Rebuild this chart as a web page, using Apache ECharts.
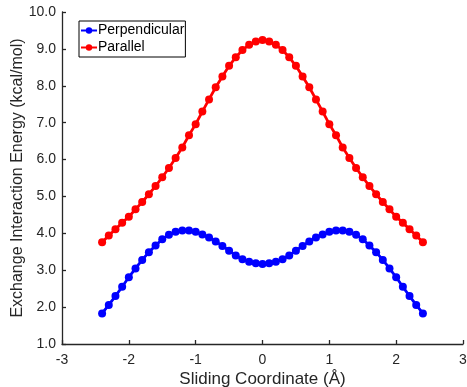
<!DOCTYPE html>
<html>
<head>
<meta charset="utf-8">
<script src="https://cdn.jsdelivr.net/npm/echarts@6/dist/echarts.min.js"></script>
<style>html,body{margin:0;padding:0;background:#fff}#c{width:467px;height:387px}</style>
</head>
<body>
<div id="c"></div>
<script>
const xValues = [-2.4,-2.3,-2.2,-2.1,-2.0,-1.9,-1.8,-1.7,-1.6,-1.5,-1.4,-1.3,-1.2,-1.1,-1.0,-0.9,-0.8,-0.7,-0.6,-0.5,-0.4,-0.3,-0.2,-0.1,0.0,
  0.1,0.2,0.3,0.4,0.5,0.6,0.7,0.8,0.9,1.0,1.1,1.2,1.3,1.4,1.5,1.6,1.7,1.8,1.9,2.0,2.1,2.2,2.3,2.4];
const perpendicular = [1.83,2.06,2.30,2.55,2.81,3.05,3.28,3.49,3.67,3.84,3.96,4.04,4.08,4.08,4.04,3.97,3.89,3.78,3.66,3.53,3.40,3.30,3.23,3.19,3.17,
  3.19,3.23,3.30,3.40,3.53,3.66,3.78,3.89,3.97,4.04,4.08,4.08,4.04,3.96,3.84,3.67,3.49,3.28,3.05,2.81,2.55,2.30,2.06,1.83];
const parallel = [3.76,3.94,4.11,4.29,4.45,4.65,4.85,5.06,5.28,5.52,5.77,6.04,6.33,6.66,6.96,7.30,7.63,7.96,8.25,8.54,8.77,8.97,9.11,9.20,9.24,
  9.20,9.11,8.97,8.77,8.54,8.25,7.96,7.63,7.30,6.96,6.66,6.33,6.04,5.77,5.52,5.28,5.06,4.85,4.65,4.45,4.29,4.11,3.94,3.76];
const seriesNames = ['Perpendicular','Parallel'];
const xName = 'Sliding Coordinate (Å)';
const yName = 'Exchange Interaction Energy (kcal/mol)';

const font = 'Helvetica, "Liberation Sans", Arial, sans-serif';
const chart = echarts.init(document.getElementById('c'), null, {renderer:'canvas'});
const pair = (ys) => xValues.map((x,i)=>[x, ys[i]]);
chart.setOption({
  animation:false,
  grid:{left:62, right:4, top:12, bottom:43, containLabel:false, outerBoundsMode:'none'},
  legend:{
    orient:'vertical', left:79, top:21,
    borderColor:'#000', borderWidth:1, borderRadius:0,
    padding:[1,1,1,1], itemGap:0, itemWidth:16, itemHeight:8,
    textStyle:{fontFamily:font, fontSize:14, color:'#000', lineHeight:17, padding:[0,0,0,-4]},
    data:seriesNames
  },
  xAxis:{
    type:'value', min:-3, max:3, interval:1,
    name:xName, nameLocation:'middle', nameGap:27, nameMoveOverlap:false,
    nameTextStyle:{fontFamily:font, fontSize:17, color:'#262626'},
    axisLine:{onZero:false, lineStyle:{color:'#262626', width:1.3}},
    axisTick:{inside:true, length:4, lineStyle:{color:'#262626', width:1.3}},
    axisLabel:{fontFamily:font, fontSize:14, color:'#262626', margin:9},
    splitLine:{show:false}
  },
  yAxis:{
    type:'value', min:1, max:10, interval:1,
    name:yName, nameLocation:'middle', nameGap:36, nameRotate:90, nameMoveOverlap:false,
    nameTextStyle:{fontFamily:font, fontSize:16, color:'#262626'},
    axisLine:{show:true, onZero:false, lineStyle:{color:'#262626', width:1.3}},
    axisTick:{show:true, inside:true, length:4, lineStyle:{color:'#262626', width:1.3}},
    axisLabel:{fontFamily:font, fontSize:14, color:'#262626', margin:6, formatter:v=>v.toFixed(1)},
    splitLine:{show:false}
  },
  series:[
    {name:seriesNames[0], type:'line', data:pair(perpendicular), color:'#0000ff',
     symbol:'circle', symbolSize:8, lineStyle:{width:2.8}, itemStyle:{color:'#0000ff'}},
    {name:seriesNames[1], type:'line', data:pair(parallel), color:'#ff0000',
     symbol:'circle', symbolSize:8, lineStyle:{width:2.8}, itemStyle:{color:'#ff0000'}}
  ]
});
</script>
</body>
</html>
